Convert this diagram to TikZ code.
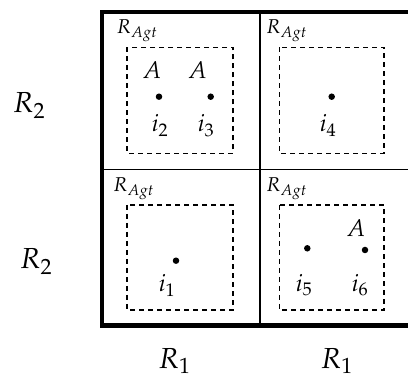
\documentclass[tikz,border=0pt]{standalone}
\usepackage{mathpazo}
\begin{document}
\begin{tikzpicture}[x=1pt,y=-1pt,
  frame/.style={line width=4.5pt},
  inner/.style={line width=1.8pt},
  dbox/.style={dashed,line width=1.4pt,dash pattern=on 5pt off 4pt},
  pt/.style={circle,fill=black,inner sep=0pt,minimum size=6.5pt},
  lbl/.style={anchor=base,inner sep=0pt,font=\fontsize{24}{26}\selectfont},
  agt/.style={anchor=base west,inner sep=0pt,font=\fontsize{20}{22}\selectfont},
  axis/.style={anchor=base,inner sep=0pt,font=\fontsize{29}{31}\selectfont}]
\useasboundingbox (0,0) rectangle (408,379);
\clip (0,0) rectangle (408,379);
% frame
\draw[inner] (260,12) -- (260,325.5);
\draw[inner] (102,169.5) -- (430,169.5);
\draw[frame] (430,12) -- (102,12) -- (102,325.5) -- (430,325.5);
% dashed boxes
\draw[dbox] (127,47.3) rectangle (233,153.3);
\draw[dbox] (279.3,47.3) rectangle (384,153.3);
\draw[dbox] (127,205) rectangle (233,310);
\draw[dbox] (279.3,205) rectangle (384,310);
% R_Agt labels
\node[agt] (ag1) at (116.5,34) {$R_{Agt}$};
\node[agt] (ag2) at (266,34) {$R_{Agt}$};
\node[agt] (ag3) at (113,192) {$R_{Agt}$};
\node[agt] (ag4) at (266,192) {$R_{Agt}$};
% top-left
\node[pt] (p2) at (159,96.7) {};
\node[pt] (p3) at (210.7,96.7) {};
\node[lbl] (a2) at (152,79) {$A$};
\node[lbl] (a3) at (197.5,79) {$A$};
\node[lbl] (l2) at (160,132) {$i_2$};
\node[lbl] (l3) at (206,132) {$i_3$};
% top-right
\node[pt] (p4) at (331.7,96.7) {};
\node[lbl] (l4) at (328,132) {$i_4$};
% bottom-left
\node[pt] (p1) at (176,260.7) {};
\node[lbl] (l1) at (167,291.7) {$i_1$};
% bottom-right
\node[pt] (p5) at (307.3,248.3) {};
\node[pt] (p6) at (365,250) {};
\node[lbl] (a6) at (356,236.7) {$A$};
\node[lbl] (l5) at (304,291.7) {$i_5$};
\node[lbl] (l6) at (360,291.7) {$i_6$};
% axis labels
\node[axis] (r2a) at (29,113) {$R_2$};
\node[axis] (r2b) at (36,269) {$R_2$};
\node[axis] (r1a) at (174.5,368.5) {$R_1$};
\node[axis] (r1b) at (336.7,368.5) {$R_1$};
\end{tikzpicture}
\end{document}
